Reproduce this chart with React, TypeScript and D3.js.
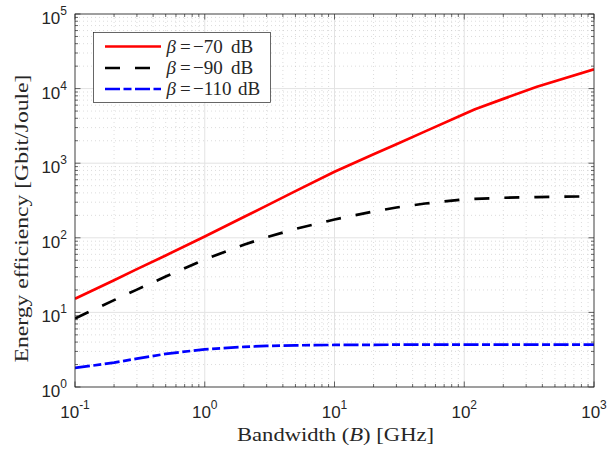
import React from "react";
import * as d3 from "d3";

const bandwidth = [0.1, 0.2, 0.3, 0.5, 1, 2, 3, 5, 10, 20, 30, 50, 100, 121, 200, 363, 1000];
const eeMinus70 = [15.2, 27, 38, 58, 104, 190, 270, 422, 770, 1320, 1800, 2670, 4570, 5300, 7280, 10600, 18100];
const eeMinus90 = [8.3, 14.6, 20.2, 30.2, 51.3, 80.5, 102, 131.5, 176, 225, 255, 288, 328, 333, 344, 352, 360];
const eeMinus110 = [1.8, 2.12, 2.4, 2.78, 3.2, 3.45, 3.55, 3.62, 3.66, 3.68, 3.69, 3.69, 3.7, 3.7, 3.7, 3.7, 3.7];
const seriesLabels = ["−70", "−90", "−110"];
const xTickExp = [-1, 0, 1, 2, 3];
const yTickExp = [0, 1, 2, 3, 4, 5];

const W = 609, H = 452;
const L = 75, R = 594, T = 14, B = 387;
const INK = "#262626";
const SERIF = "'Liberation Serif', 'Times New Roman', serif";
const SANS = "'Liberation Sans', Arial, sans-serif";

export default function App() {
  const x = d3.scaleLog().domain([0.1, 1000]).range([L, R]);
  const y = d3.scaleLog().domain([1, 1e5]).range([B, T]);

  const series = [
    { vals: eeMinus70, color: "#ff0000", dash: undefined as string | undefined },
    { vals: eeMinus90, color: "#000000", dash: "15 15" },
    { vals: eeMinus110, color: "#0000ff", dash: "15 3.5 8 3.5" },
  ];
  const line = d3.line<[number, number]>().x(d => x(d[0])).y(d => y(d[1]));

  const xMinor: number[] = [];
  for (let e = -1; e < 3; e++) for (let m = 2; m <= 9; m++) xMinor.push(m * Math.pow(10, e));
  const yMinor: number[] = [];
  for (let e = 0; e < 5; e++) for (let m = 2; m <= 9; m++) yMinor.push(m * Math.pow(10, e));

  const legendY = [46.5, 68, 89];

  return (
    <svg width={W} height={H} style={{ position: "absolute", left: 0, top: 0, background: "#fff" }}>
      <rect x={0} y={0} width={W} height={H} fill="#fff" />
      {xMinor.map((v, i) => (
        <line key={"xm" + i} x1={x(v)} x2={x(v)} y1={T} y2={B} stroke="#c4c4c4" strokeWidth={0.6} strokeDasharray="1 3" />
      ))}
      {yMinor.map((v, i) => (
        <line key={"ym" + i} x1={L} x2={R} y1={y(v)} y2={y(v)} stroke="#c4c4c4" strokeWidth={0.6} strokeDasharray="1 3" />
      ))}
      {xTickExp.map(e => (
        <line key={"xg" + e} x1={x(Math.pow(10, e))} x2={x(Math.pow(10, e))} y1={T} y2={B} stroke="#e3e3e3" strokeWidth={1} />
      ))}
      {yTickExp.map(e => (
        <line key={"yg" + e} x1={L} x2={R} y1={y(Math.pow(10, e))} y2={y(Math.pow(10, e))} stroke="#e3e3e3" strokeWidth={1} />
      ))}
      <defs>
        <clipPath id="clip"><rect x={L} y={T} width={R - L} height={B - T} /></clipPath>
      </defs>
      <g clipPath="url(#clip)">
        {series.map((s, i) => (
          <path key={"s" + i} d={line(bandwidth.map((b, j) => [b, s.vals[j]] as [number, number])) || ""}
            fill="none" stroke={s.color} strokeWidth={2.7} strokeDasharray={s.dash} strokeLinejoin="round" />
        ))}
      </g>
      {xTickExp.map(e => {
        const px = x(Math.pow(10, e));
        return (
          <g key={"xt" + e}>
            <line x1={px} x2={px} y1={B} y2={B - 5.5} stroke={INK} strokeWidth={0.7} />
            <line x1={px} x2={px} y1={T} y2={T + 5.5} stroke={INK} strokeWidth={0.7} />
            <text x={px} y={417.5} textAnchor="middle" fontFamily={SANS} fontSize={17} fill={INK}>
              10<tspan fontSize={12} dy={-9}>{e < 0 ? "-" + Math.abs(e) : String(e)}</tspan>
            </text>
          </g>
        );
      })}
      {xMinor.map((v, i) => (
        <g key={"xmt" + i}>
          <line x1={x(v)} x2={x(v)} y1={B} y2={B - 3} stroke={INK} strokeWidth={0.7} />
          <line x1={x(v)} x2={x(v)} y1={T} y2={T + 3} stroke={INK} strokeWidth={0.7} />
        </g>
      ))}
      {yTickExp.map(e => {
        const py = y(Math.pow(10, e));
        return (
          <g key={"yt" + e}>
            <line x1={L} x2={L + 5.5} y1={py} y2={py} stroke={INK} strokeWidth={0.7} />
            <line x1={R} x2={R - 5.5} y1={py} y2={py} stroke={INK} strokeWidth={0.7} />
            <text x={67} y={py + 10} textAnchor="end" fontFamily={SANS} fontSize={17} fill={INK}>
              10<tspan fontSize={12} dy={-9}>{String(e)}</tspan>
            </text>
          </g>
        );
      })}
      {yMinor.map((v, i) => (
        <g key={"ymt" + i}>
          <line x1={L} x2={L + 3} y1={y(v)} y2={y(v)} stroke={INK} strokeWidth={0.7} />
          <line x1={R} x2={R - 3} y1={y(v)} y2={y(v)} stroke={INK} strokeWidth={0.7} />
        </g>
      ))}
      <rect x={L} y={T} width={R - L} height={B - T} fill="none" stroke={INK} strokeWidth={0.8} />
      <text x={(L + R) / 2 + 1} y={441} textAnchor="middle" fontFamily={SERIF} fontSize={19} fill={INK}
        textLength={197} lengthAdjust="spacingAndGlyphs">
        Bandwidth (<tspan fontStyle="italic">B</tspan>) [GHz]
      </text>
      <text transform={`translate(28, ${(T + B) / 2 + 18}) rotate(-90)`} textAnchor="middle"
        fontFamily={SERIF} fontSize={19} fill={INK} textLength={288} lengthAdjust="spacingAndGlyphs">
        Energy efficiency [Gbit/Joule]
      </text>
      <rect x={93.5} y={32.5} width={177} height={70} fill="#fff" stroke={INK} strokeWidth={0.7} />
      {series.map((s, i) => (
        <g key={"lg" + i} fontFamily={SERIF} fontSize={19} fill={INK}>
          <line x1={105} x2={161} y1={legendY[i]} y2={legendY[i]} stroke={s.color} strokeWidth={2.7} strokeDasharray={s.dash} />
          <text x={166.5} y={legendY[i] + 6} fontStyle="italic">β</text>
          <text x={180} y={legendY[i] + 6}>=</text>
          <text x={193} y={legendY[i] + 6}>{seriesLabels[i]}</text>
          <text x={i === 2 ? 238 : 231} y={legendY[i] + 6}>dB</text>
        </g>
      ))}
    </svg>
  );
}
